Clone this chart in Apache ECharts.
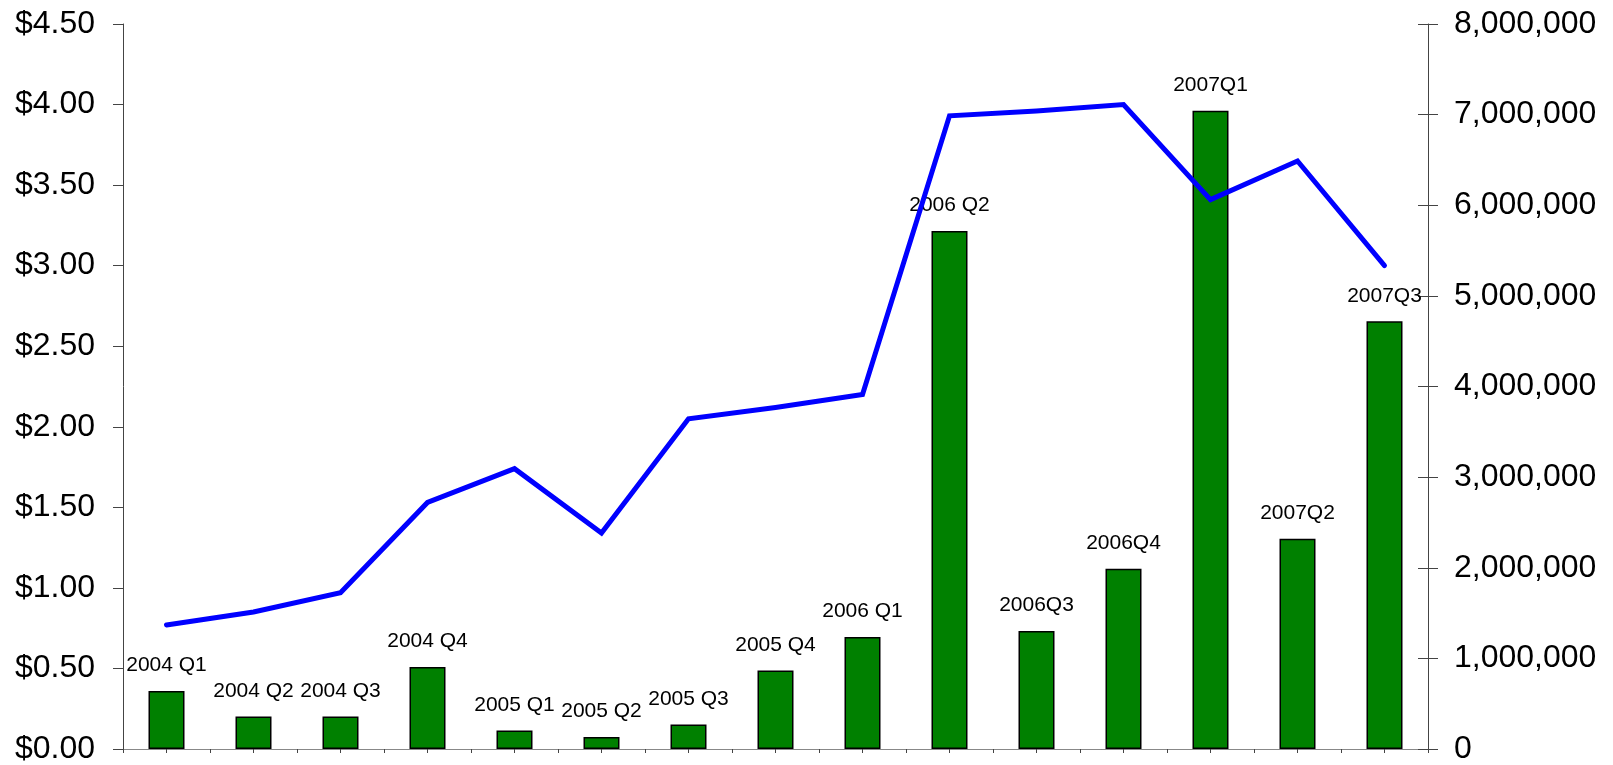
<!DOCTYPE html>
<html>
<head>
<meta charset="utf-8">
<title>Quarterly price and volume</title>
<script src="https://cdn.jsdelivr.net/npm/echarts@6/dist/echarts.min.js"></script>
<style>
  html, body { margin: 0; padding: 0; background: #fff; }
  #chart { width: 1613px; height: 765px; }
</style>
</head>
<body>
<div id="chart"></div>
<script>
// quarters (also used as the bar labels)
const quarters = [
  '2004 Q1', '2004 Q2', '2004 Q3', '2004 Q4',
  '2005 Q1', '2005 Q2', '2005 Q3', '2005 Q4',
  '2006 Q1', '2006 Q2', '2006Q3', '2006Q4',
  '2007Q1', '2007Q2', '2007Q3'
]

// price, left axis ($)
const price = [
  0.77, 0.85, 0.97, 1.53,
  1.74, 1.34, 2.05, 2.12,
  2.20, 3.93, 3.96, 4.00,
  3.41, 3.65, 3.00
]

// volume, right axis
const volume = [
  640000, 358000, 358000, 905000,
  203000, 133000, 270000, 866000,
  1237000, 5717000, 1303000, 1988000,
  7043000, 2319000, 4720000
]

const FONT = 'Liberation Sans, Arial, sans-serif'
const AXIS_COLOR = '#444'

const chart = echarts.init(document.getElementById('chart'))

const option = {
  animation: false,
  backgroundColor: '#fff',
  textStyle: { fontFamily: FONT },
  grid: {
    left: 123,
    right: 185,
    top: 24,
    bottom: 16
  },
  xAxis: [
    {
      // boundary ticks + baseline
      type: 'category',
      data: quarters,
      position: 'bottom',
      boundaryGap: true,
      axisLine: { lineStyle: { color: AXIS_COLOR, width: 1 } },
      axisTick: { show: true, length: 4, lineStyle: { color: AXIS_COLOR } },
      axisLabel: { show: false },
      splitLine: { show: false }
    },
    {
      // ticks in the middle of each quarter
      type: 'category',
      data: quarters,
      position: 'bottom',
      boundaryGap: true,
      axisLine: { show: false },
      axisTick: { show: true, alignWithLabel: true, length: 4, lineStyle: { color: AXIS_COLOR } },
      axisLabel: { show: false },
      splitLine: { show: false }
    },
    {
      // top border
      type: 'category',
      data: quarters,
      position: 'top',
      axisLine: { lineStyle: { color: '#888', width: 1 } },
      axisTick: { show: false },
      axisLabel: { show: false },
      splitLine: { show: false }
    }
  ],
  yAxis: [
    {
      type: 'value',
      position: 'left',
      min: 0,
      max: 4.5,
      interval: 0.5,
      axisLine: { show: true, lineStyle: { color: AXIS_COLOR, width: 1 } },
      axisTick: { show: true, length: 10, lineStyle: { color: AXIS_COLOR } },
      axisLabel: {
        margin: 28,
        fontSize: 32,
        color: '#000',
        fontFamily: FONT,
        formatter: v => '$' + v.toFixed(2)
      },
      splitLine: { show: false }
    },
    {
      type: 'value',
      position: 'right',
      min: 0,
      max: 8000000,
      interval: 1000000,
      axisLine: { show: true, lineStyle: { color: AXIS_COLOR, width: 1 } },
      axisTick: { show: true, length: 10, lineStyle: { color: AXIS_COLOR } },
      axisLabel: {
        margin: 26,
        fontSize: 32,
        color: '#000',
        fontFamily: FONT,
        formatter: v => v.toLocaleString('en-US')
      },
      splitLine: { show: false }
    },
    {
      // inner half of the right-axis ticks
      type: 'value',
      position: 'right',
      min: 0,
      max: 8000000,
      interval: 1000000,
      axisLine: { show: false },
      axisTick: { show: true, inside: true, length: 10, lineStyle: { color: AXIS_COLOR } },
      axisLabel: { show: false },
      splitLine: { show: false }
    }
  ],
  series: [
    {
      name: 'Volume',
      type: 'bar',
      xAxisIndex: 0,
      yAxisIndex: 1,
      data: volume,
      barWidth: 36,
      itemStyle: {
        color: '#008000',
        borderColor: '#000',
        borderWidth: 1.5
      },
      label: {
        show: true,
        position: 'top',
        distance: 15,
        formatter: '{b}',
        fontSize: 21,
        color: '#000',
        fontFamily: FONT
      },
      z: 2
    },
    {
      name: 'Price',
      type: 'line',
      xAxisIndex: 0,
      yAxisIndex: 0,
      data: price,
      symbol: 'none',
      lineStyle: { color: '#0000ff', width: 5, cap: 'round', join: 'miter' },
      z: 3
    }
  ]
}

chart.setOption(option)
</script>
</body>
</html>
